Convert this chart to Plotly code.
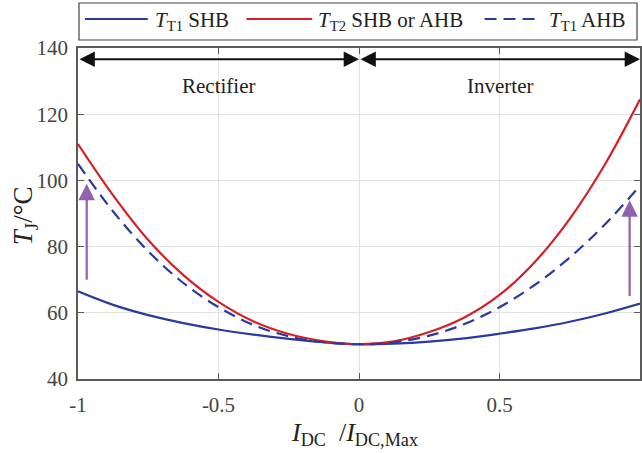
import plotly.graph_objects as go

# Normalised DC current (per unit of the maximum)
i_dc = [-1.0, -0.875, -0.75, -0.625, -0.5, -0.375, -0.25, -0.125, 0.0,
        0.125, 0.25, 0.375, 0.5, 0.625, 0.75, 0.875, 1.0]

# Junction temperatures in degrees C
t1_shb = [66.5, 62.4, 59.3, 56.9, 54.95, 53.4, 52.1, 51.1, 50.5,
          50.7, 51.3, 52.3, 53.7, 55.3, 57.3, 59.8, 62.8]
t2_shb_ahb = [111.0, 95.5, 82.0, 71.4, 63.3, 57.4, 53.6, 51.4, 50.5,
              51.4, 54.2, 58.6, 65.4, 75.3, 88.4, 104.8, 124.5]
t1_ahb = [105.0, 90.6, 78.6, 69.0, 61.7, 56.3, 52.9, 51.1, 50.5,
          51.1, 53.1, 56.6, 61.7, 68.4, 76.7, 86.7, 98.4]

# Operating-mode bands and their labels
modes = ["Rectifier", "Inverter"]
mode_from = [-1.0, 0.0]
mode_to = [0.0, 1.0]
mode_text_x = [-0.5, 0.5]
mode_arrow_y = 136.6
mode_text_y = 128.4

# Temperature rise arrows (x, from, to)
rise_x = [-0.969, 0.963]
rise_from = [69.5, 64.6]
rise_to = [99.0, 94.0]

# Tick labels
x_ticks = [-1, -0.5, 0, 0.5, 1]
x_tick_text = ["-1", "-0.5", "0", "0.5", "1"]
y_ticks = [40, 60, 80, 100, 120, 140]

BLUE = "#2b3a9c"
RED = "#d71f27"
PURPLE = "#9161b0"
SERIF = "Liberation Serif"
DASH = "12px,7px"

W, H = 642, 453
ML, MR, MT, MB = 78, 0, 48, 74
PW, PH = W - ML - MR, H - MT - MB


def px(x):
    return (x - ML) / PW


def py(y):
    return (H - MB - y) / PH


fig = go.Figure()
fig.add_trace(go.Scatter(x=i_dc, y=t1_shb, mode="lines", line=dict(color=BLUE, width=2.2, shape="spline"),
                         showlegend=False))
fig.add_trace(go.Scatter(x=i_dc, y=t2_shb_ahb, mode="lines", line=dict(color=RED, width=2.2, shape="spline"),
                         showlegend=False))
fig.add_trace(go.Scatter(x=i_dc, y=t1_ahb, mode="lines",
                         line=dict(color=BLUE, width=2.2, dash=DASH, shape="spline"),
                         showlegend=False))

annotations = []
# Mode arrows and labels
for name, a, b, tx in zip(modes, mode_from, mode_to, mode_text_x):
    annotations.append(dict(x=b, y=mode_arrow_y, ax=a, ay=mode_arrow_y, xref="x", yref="y",
                            axref="x", ayref="y", text="", showarrow=True, arrowside="end+start",
                            arrowhead=2, startarrowhead=2, arrowsize=1.7, startarrowsize=1.7,
                            arrowwidth=1.8, arrowcolor="#111111"))
    annotations.append(dict(x=tx, y=mode_text_y, xref="x", yref="y", text=name, showarrow=False,
                            xanchor="center", yanchor="middle",
                            font=dict(family=SERIF, size=21, color="#222222")))

# Temperature rise arrows
for x, a, b in zip(rise_x, rise_from, rise_to):
    annotations.append(dict(x=x, y=b, ax=x, ay=a, xref="x", yref="y", axref="x", ayref="y",
                            text="", showarrow=True, arrowhead=2, arrowsize=1.5, arrowwidth=2.2,
                            arrowcolor=PURPLE))

# Axis titles
annotations.append(dict(x=px(355), y=py(434), xref="paper", yref="paper", showarrow=False,
                        xanchor="center", yanchor="middle",
                        text="<i>I</i><sub>DC</sub>  /<i>I</i><sub>DC,Max</sub>",
                        font=dict(family=SERIF, size=26, color="#222222")))
annotations.append(dict(x=px(25), y=py(216), xref="paper", yref="paper", showarrow=False,
                        xanchor="center", yanchor="middle",
                        text="<i>T</i><sub>J</sub>/°C", textangle=-90,
                        font=dict(family=SERIF, size=27, color="#222222")))

# Legend drawn as a framed row of samples and labels
shapes = [dict(type="rect", xref="paper", yref="paper", x0=px(79), x1=px(639), y0=py(40), y1=py(3),
               line=dict(color="#444444", width=1.2), fillcolor="white")]
legend_items = [
    (85, 148, 153, BLUE, "solid", "<i>T</i><sub>T1</sub> SHB"),
    (247, 313, 317, RED, "solid", "<i>T</i><sub>T2</sub> SHB or AHB"),
    (486, 543, 549, BLUE, DASH, "<i>T</i><sub>T1</sub> AHB"),
]
for x0, x1, tx, col, dash, label in legend_items:
    shapes.append(dict(type="line", xref="paper", yref="paper", x0=px(x0), x1=px(x1),
                       y0=py(19), y1=py(19), line=dict(color=col, width=2.2, dash=dash)))
    annotations.append(dict(x=px(tx), y=py(21), xref="paper", yref="paper", xanchor="left",
                            yanchor="middle", showarrow=False, text=label,
                            font=dict(family=SERIF, size=21, color="#222222")))

axis_common = dict(showgrid=True, gridcolor="#e2e2e2", gridwidth=1, showline=True,
                   linecolor="#5a5a5a", linewidth=1.5, mirror="ticks", ticks="inside",
                   ticklen=6, tickwidth=1.2, tickcolor="#5a5a5a", zeroline=False,
                   tickfont=dict(family=SERIF, size=21, color="#444444"))

fig.update_layout(
    width=W, height=H, margin=dict(l=ML, r=MR, t=MT, b=MB),
    paper_bgcolor="white", plot_bgcolor="white",
    xaxis=dict(range=[-1, 1], tickvals=x_ticks, ticktext=x_tick_text, ticklabelstandoff=6,
               **axis_common),
    yaxis=dict(range=[40, 140], tickvals=y_ticks, ticklabelstandoff=4, **axis_common),
    annotations=annotations, shapes=shapes, showlegend=False,
)

fig.write_html("out.html")
